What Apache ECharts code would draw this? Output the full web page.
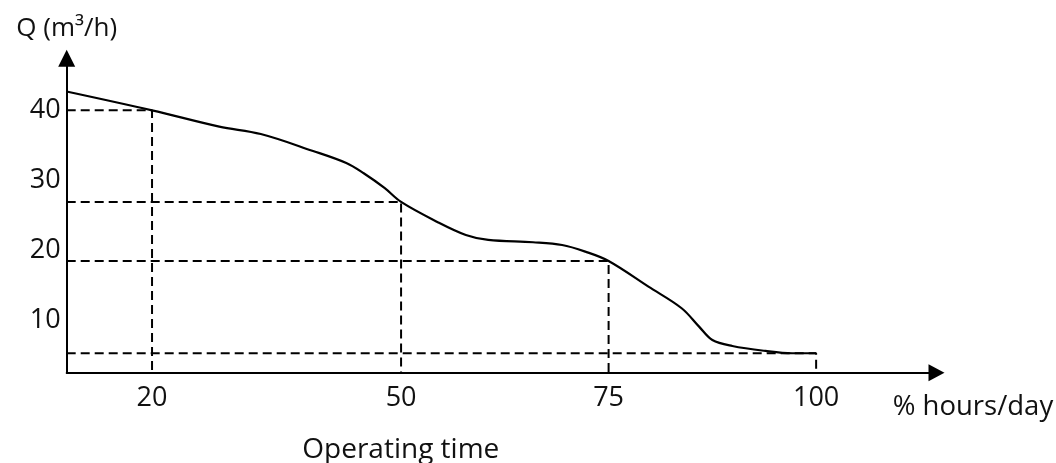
<!DOCTYPE html>
<html>
<head>
<meta charset="utf-8">
<script src="https://cdn.jsdelivr.net/npm/echarts@6/dist/echarts.min.js"></script>
<style>
html,body{margin:0;padding:0;background:#fff;}
#chart{width:1056px;height:463px;}
</style>
</head>
<body>
<div id="chart"></div>
<script>
// Operating time (% hours/day) and flow Q (m³/h) of the duration curve
const hoursPct = [9.7, 20, 28.1, 33.1, 39.3, 43.4, 45.5, 48.0, 50, 54.3, 57.8, 60.5, 65.9, 69.4, 72.2, 75, 79.8, 83.8, 85.9, 87.5, 89.9, 93.9, 97.1, 100];
const flowQ    = [42.7, 40, 37.67, 36.62, 34.23, 32.47, 31.0, 28.9, 26.9, 24.08, 22.17, 21.46, 21.13, 20.74, 19.79, 18.45, 14.78, 11.69, 9.06, 7.15, 6.29, 5.58, 5.25, 5.25];
// reference points (dashed guides)
const guideHours = [20, 50, 75, 100];
const guideFlow  = [40, 26.9, 18.45, 5.25];
// tick labels
const xTickLabels = [20, 50, 75, 100];
const yTickLabels = [10, 20, 30, 40];

const X_MIN = 9.72, X_MAX = 114.5, Y_MIN = 2.47, Y_MAX = 47.45;
const FONT = 'Open Sans';
const TXT = '#111';

const curve = hoursPct.map((h, i) => [h, flowQ[i]]);
const guideSeries = guideHours.map((h, i) => ({
  type: 'line',
  data: [[X_MIN, guideFlow[i]], [h, guideFlow[i]], [h, Y_MIN]],
  symbol: 'none',
  silent: true,
  z: 1,
  lineStyle: { color: '#000', width: 2, type: [9, 5] }
}));

const chart = echarts.init(document.getElementById('chart'));
chart.setOption({
  animation: false,
  grid: { left: 66.7, right: 119.5, top: 58.3, bottom: 90.3, containLabel: false },
  xAxis: {
    type: 'value', min: X_MIN, max: X_MAX,
    splitLine: { show: false },
    axisTick: { show: false },
    axisLine: { onZero: false, symbol: ['none', 'triangle'], symbolSize: [17, 16],
      lineStyle: { color: '#000', width: 2 } },
    axisLabel: { customValues: xTickLabels, margin: 12, fontFamily: FONT, fontSize: 27, color: TXT }
  },
  yAxis: {
    type: 'value', min: Y_MIN, max: Y_MAX,
    splitLine: { show: false },
    axisTick: { show: false },
    axisLine: { onZero: false, symbol: ['none', 'triangle'], symbolSize: [17, 17],
      lineStyle: { color: '#000', width: 2 } },
    axisLabel: { customValues: yTickLabels, margin: 6, fontFamily: FONT, fontSize: 27, color: TXT },
    name: 'Q (m³/h)', nameLocation: 'end', nameGap: 17,
    nameTextStyle: { fontFamily: FONT, fontSize: 26, color: TXT }
  },
  graphic: [
    { type: 'text', x: 892.7, y: 406.7, style: { text: '% hours/day', font: '27.5px "Open Sans"', fill: TXT, verticalAlign: 'middle', align: 'left' } },
    { type: 'text', x: 400.8, y: 450, style: { text: 'Operating time', font: '28px "Open Sans"', fill: TXT, verticalAlign: 'middle', align: 'center' } }
  ],
  series: [
    ...guideSeries,
    { type: 'line', data: curve, symbol: 'none', smooth: 0.35, z: 3,
      lineStyle: { color: '#000', width: 2.2 } }
  ]
});
</script>
</body>
</html>
